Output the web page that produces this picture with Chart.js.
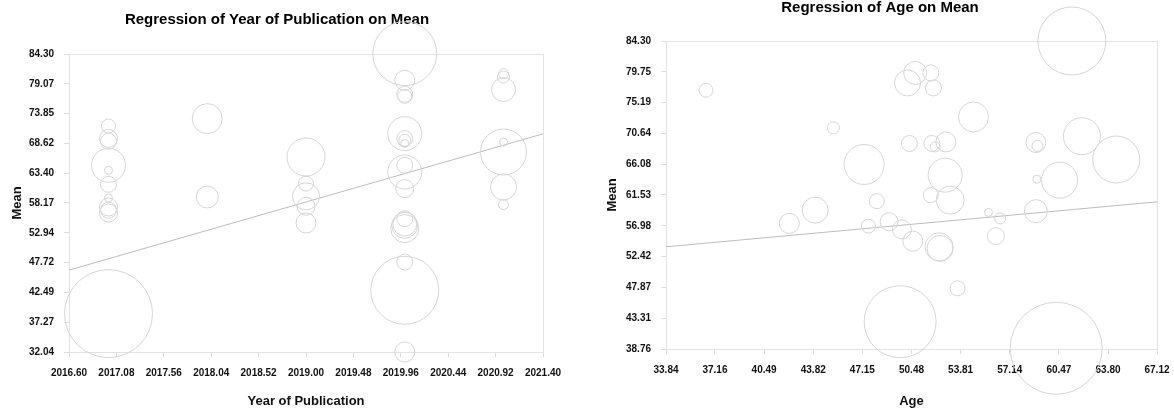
<!DOCTYPE html>
<html>
<head>
<meta charset="utf-8">
<script src="https://cdn.jsdelivr.net/npm/chart.js@4.4.0/dist/chart.umd.min.js"></script>
<style>
    body { margin: 0; background: #fff; }
    canvas { position: absolute; top: 0; }
    #izq { left: 0; }
    #der { left: 587px; }
</style>
</head>
<body>
<canvas id="izq" width="587" height="408"></canvas>
<canvas id="der" width="587" height="408"></canvas>
<script>
// Año de publicación vs media
const anios = [2017, 2017, 2017, 2017, 2017, 2017, 2017, 2017, 2017, 2017, 2017,
    2018, 2018,
    2019, 2019, 2019, 2019, 2019,
    2020, 2020, 2020, 2020, 2020, 2020, 2020, 2020, 2020, 2020, 2020, 2020, 2020, 2020, 2020, 2020, 2020, 2020,
    2021, 2021, 2021, 2021, 2021, 2021, 2021];
const mediasAnio = [71.67, 69.5, 69.0, 64.78, 63.9, 61.45, 59.05, 57.47, 56.9, 56.4, 38.77,
    72.97, 59.22,
    66.24, 61.57, 59.34, 57.59, 54.66,
    84.37, 79.69, 77.23, 76.88, 70.34, 69.46, 69.17, 68.59, 64.78, 63.61, 60.69, 55.43, 54.5, 54.26, 53.68, 47.82, 42.86, 32.04,
    80.86, 80.27, 78.06, 68.87, 67.11, 60.98, 57.89];
const pesosAnio = [7, 9, 8, 17, 4, 8, 4, 9, 8, 9, 44,
    15, 11,
    19, 7.5, 13.5, 9, 10,
    32, 10, 8, 7, 17, 8, 6, 4, 8, 17, 9, 8, 12, 13, 14, 8, 34, 10,
    5, 6, 12, 4, 23, 13, 5];
const regAnioX = [2016.60, 2021.40];
const regAnioY = [46.4, 70.3];
const ticksAnioX = [2016.60, 2017.08, 2017.56, 2018.04, 2018.52, 2019.00, 2019.48, 2019.96, 2020.44, 2020.92, 2021.40];
const ticksAnioY = [32.04, 37.27, 42.49, 47.72, 52.94, 58.17, 63.40, 68.62, 73.85, 79.07, 84.30];

// Edad vs media
const edades = [36.55, 45.19, 47.27, 48.13, 43.95, 42.20, 47.56, 49.71, 61.35, 50.73,
    50.21, 51.79, 51.97, 54.68, 50.34, 51.86, 52.08, 52.81, 52.76, 51.79,
    53.10, 48.96, 49.83, 50.57, 52.35, 52.42, 53.60, 55.70, 56.49, 56.20,
    58.91, 58.98, 60.52, 58.91, 59.02, 62.03, 64.36, 60.29];
const mediasEdad = [77.02, 71.45, 66.04, 60.62, 59.29, 57.33, 56.93, 42.79, 84.30, 79.57,
    78.10, 79.57, 77.36, 73.07, 69.15, 69.15, 68.64, 69.38, 64.46, 61.51,
    60.77, 57.57, 56.44, 54.71, 53.87, 53.63, 47.73, 58.95, 58.07, 55.45,
    59.14, 63.87, 63.72, 69.29, 68.79, 70.22, 66.78, 38.87];
const pesosEdad = [7, 6, 20, 7.5, 13, 10, 7, 36, 34, 11.5,
    13, 8, 8, 15, 8, 8, 5, 10, 17, 7.5,
    14, 9, 9.5, 10, 14, 13, 7.5, 4, 5.5, 8.5,
    11.5, 4, 18, 10, 5.5, 18.5, 23.5, 46];
const regEdadX = [33.84, 67.12];
const regEdadY = [53.87, 60.52];
const ticksEdadX = [33.84, 37.16, 40.49, 43.82, 47.15, 50.48, 53.81, 57.14, 60.47, 63.80, 67.12];
const ticksEdadY = [38.76, 43.31, 47.87, 52.42, 56.98, 61.53, 66.08, 70.64, 75.19, 79.75, 84.30];

const fuente = "'Liberation Sans', Arial, sans-serif";

// Marco gris alrededor del área del gráfico
const marco = {
    id: "marco",
    beforeDatasetsDraw(chart) {
        const { ctx, chartArea: a } = chart;
        ctx.save();
        ctx.strokeStyle = "#e3e3e3";
        ctx.lineWidth = 1;
        ctx.strokeRect(Math.round(a.left) + 0.5, Math.round(a.top) + 0.5,
            Math.round(a.right - a.left), Math.round(a.bottom - a.top));
        ctx.restore();
    }
};

function crearGrafico(id, p) {
    const burbujas = p.xs.map((x, i) => ({ x: x, y: p.ys[i], r: p.rs[i] }));
    const linea = p.lx.map((x, i) => ({ x: x, y: p.ly[i] }));
    const ejeComun = (ticks) => ({
        type: "linear",
        min: ticks[0],
        max: ticks[ticks.length - 1],
        afterBuildTicks: (scale) => { scale.ticks = ticks.map(v => ({ value: v })); },
        grid: { display: true, drawOnChartArea: false, drawTicks: true, tickLength: 5, color: "#dcdcdc" },
        border: { display: true, color: "#e3e3e3" }
    });
    const ejeX = ejeComun(p.ticksX);
    ejeX.ticks = {
        color: "#111", padding: 10, maxRotation: 0, autoSkip: false,
        font: { family: fuente, size: 10, weight: "bold" },
        callback: (v) => Number(v).toFixed(2)
    };
    ejeX.title = { display: true, text: p.tituloX, color: "#111", padding: 0,
        font: { family: fuente, size: 13, weight: "bold", lineHeight: 1 } };
    ejeX.afterFit = (scale) => {
        scale.height = p.altoX;
        // el espacio lateral lo marca el padding del layout
        scale.paddingLeft = 0;
        scale.paddingRight = 0;
    };
    const ejeY = ejeComun(p.ticksY);
    ejeY.ticks = {
        color: "#111", padding: 10, autoSkip: false,
        font: { family: fuente, size: 10, weight: "bold" },
        callback: (v) => Number(v).toFixed(2)
    };
    ejeY.title = { display: true, text: "Mean", color: "#111", padding: { top: p.padTituloY, bottom: 0 },
        font: { family: fuente, size: 13, weight: "bold", lineHeight: 1 } };
    ejeY.afterFit = (scale) => { scale.width = p.anchoY; };

    return new Chart(document.getElementById(id), {
        type: "bubble",
        data: {
            datasets: [{
                type: "bubble",
                data: burbujas,
                backgroundColor: "rgba(0,0,0,0)",
                borderColor: "#d6d6d6",
                borderWidth: 1,
                clip: false
            }, {
                type: "scatter",
                data: linea,
                showLine: true,
                pointRadius: 0,
                borderColor: "#bdbdbd",
                borderWidth: 1,
                clip: false
            }]
        },
        options: {
            responsive: false,
            animation: false,
            layout: { padding: p.padding, autoPadding: false },
            plugins: {
                legend: { display: false },
                tooltip: { enabled: false },
                title: {
                    display: true,
                    text: p.titulo,
                    color: "#000",
                    padding: p.padTitulo,
                    font: { family: fuente, size: 15, weight: "bold", lineHeight: 1 }
                }
            },
            scales: { x: ejeX, y: ejeY }
        },
        plugins: [marco]
    });
}

crearGrafico("izq", {
    xs: anios, ys: mediasAnio, rs: pesosAnio,
    lx: regAnioX, ly: regAnioY,
    ticksX: ticksAnioX, ticksY: ticksAnioY,
    titulo: "Regression of Year of Publication on Mean",
    tituloX: "Year of Publication",
    padding: { left: 11, right: 44, top: 0, bottom: 0 },
    padTitulo: { top: 12, bottom: 27 },
    anchoY: 58, padTituloY: 0, altoX: 56
});

crearGrafico("der", {
    xs: edades, ys: mediasEdad, rs: pesosEdad,
    lx: regEdadX, ly: regEdadY,
    ticksX: ticksEdadX, ticksY: ticksEdadY,
    titulo: "Regression of Age on Mean",
    tituloX: "Age",
    padding: { left: 16, right: 17, top: 0, bottom: 0 },
    padTitulo: { top: 0, bottom: 26 },
    anchoY: 63, padTituloY: 2.5, altoX: 59
});
</script>
</body>
</html>
